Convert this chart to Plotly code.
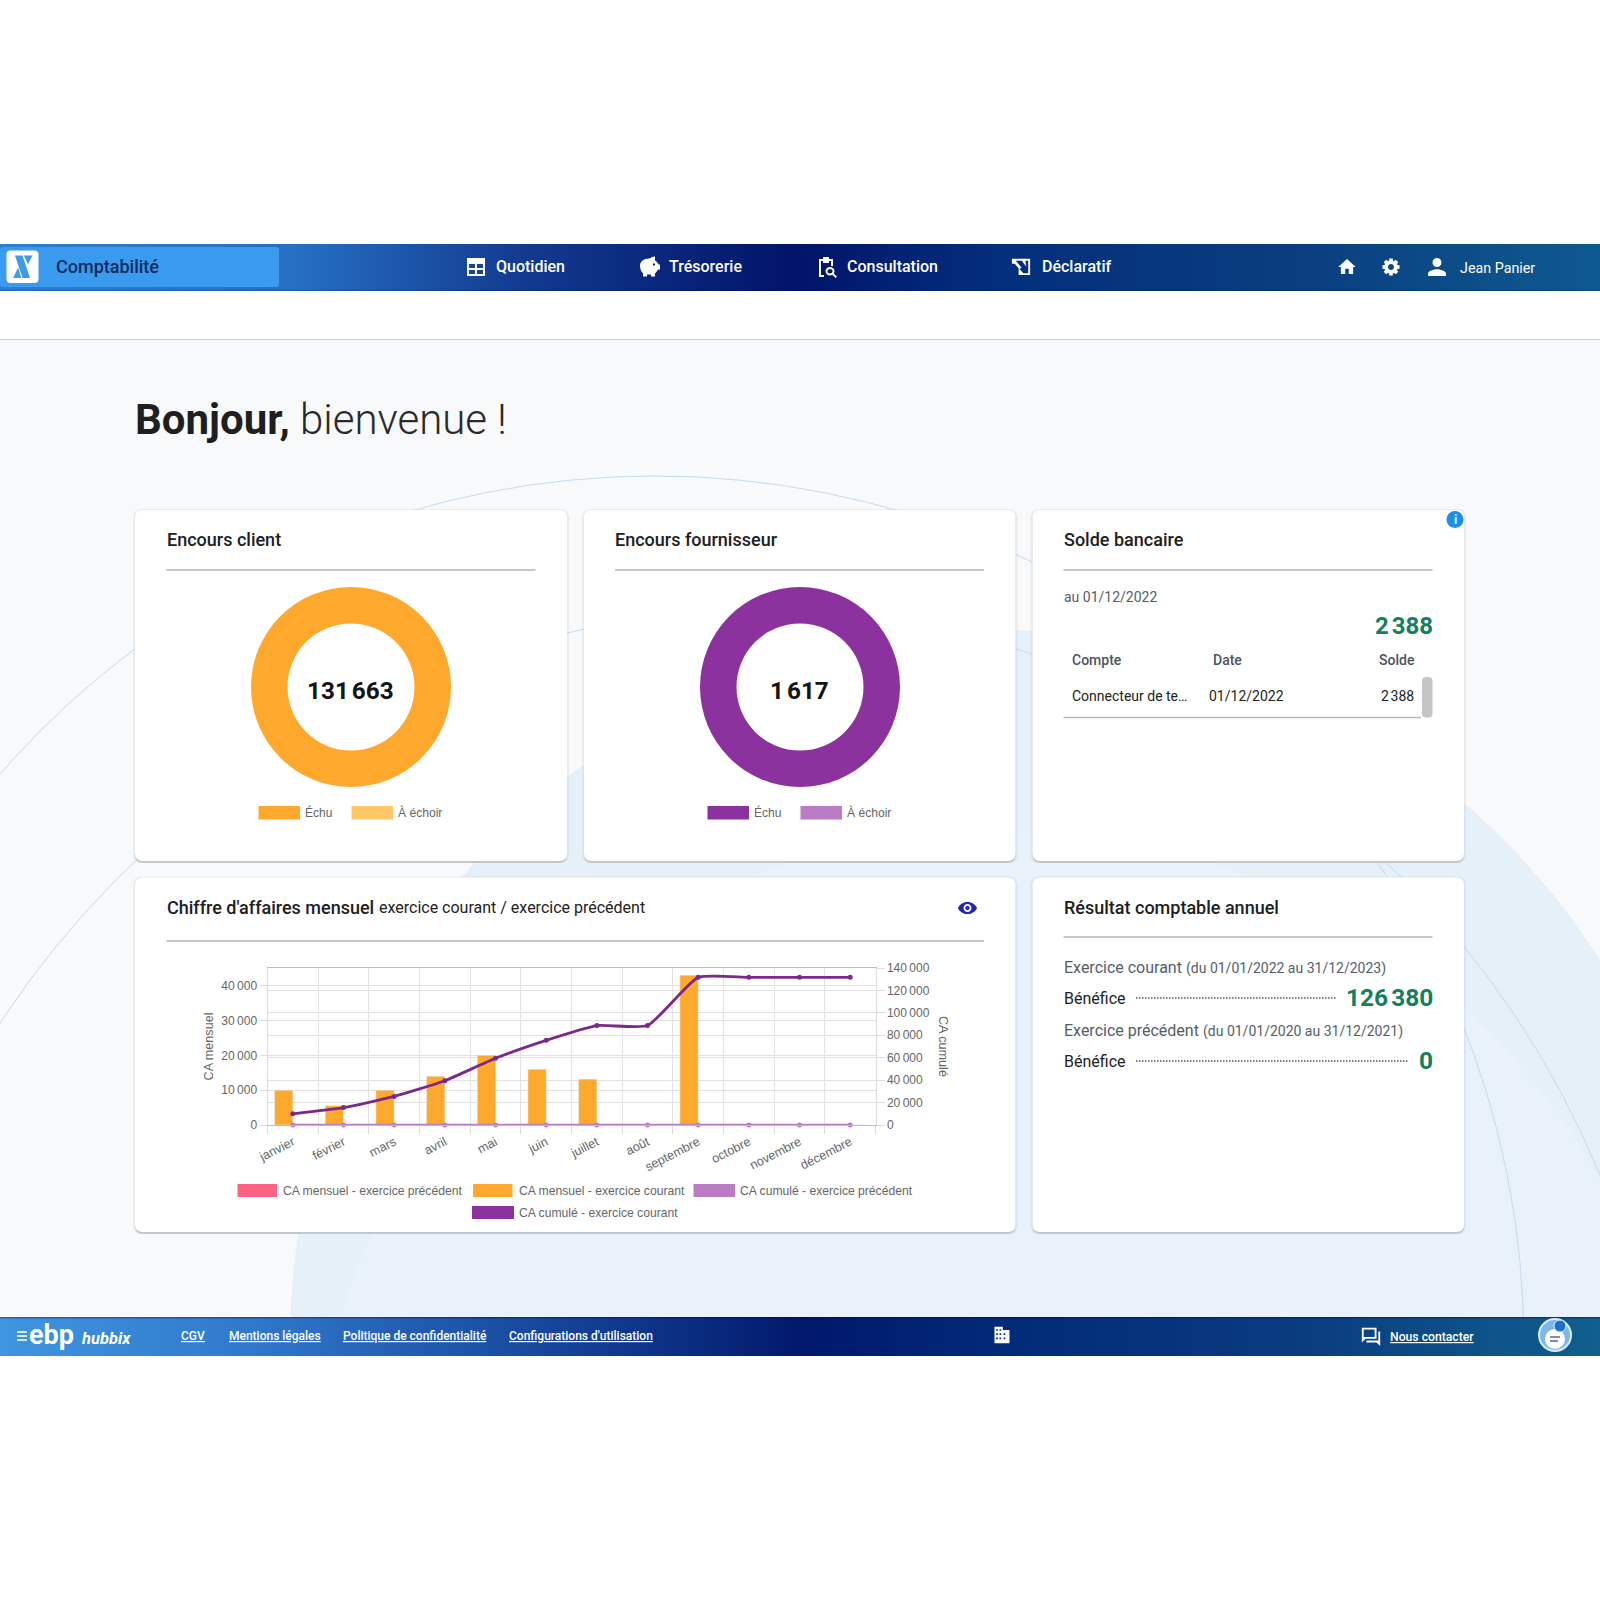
import math
import re
import plotly.graph_objects as go

W = 1600
H = 1600

# Chart values
mois = ["janvier", "février", "mars", "avril", "mai", "juin", "juillet", "août",
        "septembre", "octobre", "novembre", "décembre"]
ca_mensuel_courant = [10000, 5500, 10000, 14000, 20000, 16000, 13163, 0, 43000, 0, 0, 0]
ca_mensuel_precedent = [0, 0, 0, 0, 0, 0, 0, 0, 0, 0, 0, 0]
ca_cumule_courant = [10000, 15500, 25500, 39500, 59500, 75500, 88663, 88663, 131663, 131663, 131663, 131663]
ca_cumule_precedent = [0, 0, 0, 0, 0, 0, 0, 0, 0, 0, 0, 0]
ticks_mensuel = [0, 10000, 20000, 30000, 40000]
labels_mensuel = ["0", "10\u202f000", "20\u202f000", "30\u202f000", "40\u202f000"]
ticks_cumule = [0, 20000, 40000, 60000, 80000, 100000, 120000, 140000]
labels_cumule = ["0", "20\u202f000", "40\u202f000", "60\u202f000", "80\u202f000",
                 "100\u202f000", "120\u202f000", "140\u202f000"]
donut_labels = ["Échu", "À échoir"]
encours_client = [131663, 0]
encours_fournisseur = [1617, 0]

ORANGE = "#ffa82e"
ORANGE_LIGHT = "#ffc768"
PURPLE = "#8b329e"
PURPLE_LIGHT = "#bb7cc6"
PINK = "#ff6384"
GREEN = "#14805a"
GREY_TEXT = "#666666"
SLATE = "#555e68"
TITLE = "#202020"
HEAD = "Roboto"
CHART = "Liberation Sans"

shapes = []
notes = []


def px(x):
    return x / W


def py(y):
    return 1 - y / H


def rect(x0, y0, x1, y1, color):
    shapes.append(dict(type="rect", xref="paper", yref="paper", x0=px(x0), x1=px(x1),
                       y0=py(y0), y1=py(y1), fillcolor=color, line_width=0, layer="below"))


def rule(x0, y0, x1, y1, color, width=1, dash="solid"):
    shapes.append(dict(type="line", xref="paper", yref="paper", x0=px(x0), x1=px(x1),
                       y0=py(y0), y1=py(y1), line=dict(color=color, width=width, dash=dash),
                       layer="below"))


def circle(cx, cy, r, fill=None, line=None, width=1):
    shapes.append(dict(type="circle", xref="paper", yref="paper", x0=px(cx - r), x1=px(cx + r),
                       y0=py(cy - r), y1=py(cy + r), fillcolor=fill or "rgba(0,0,0,0)",
                       line=dict(color=line or "rgba(0,0,0,0)", width=width if line else 0),
                       layer="below"))


def rounded(x0, y0, x1, y1, r, color):
    d = (f"M{px(x0 + r):.6f} {py(y0):.6f} L{px(x1 - r):.6f} {py(y0):.6f} "
         f"Q{px(x1):.6f} {py(y0):.6f} {px(x1):.6f} {py(y0 + r):.6f} "
         f"L{px(x1):.6f} {py(y1 - r):.6f} Q{px(x1):.6f} {py(y1):.6f} {px(x1 - r):.6f} {py(y1):.6f} "
         f"L{px(x0 + r):.6f} {py(y1):.6f} Q{px(x0):.6f} {py(y1):.6f} {px(x0):.6f} {py(y1 - r):.6f} "
         f"L{px(x0):.6f} {py(y0 + r):.6f} Q{px(x0):.6f} {py(y0):.6f} {px(x0 + r):.6f} {py(y0):.6f} Z")
    shapes.append(dict(type="path", xref="paper", yref="paper", path=d, fillcolor=color,
                       line_width=0, layer="below"))


def icon(d, cx, cy, size, color):
    # d is drawn on a 24x24 grid with absolute commands only
    s = size / 24
    out = []
    for cmd, body in re.findall(r"([MLCQZ])([^MLCQZ]*)", d):
        nums = [float(v) for v in re.findall(r"-?\d+\.?\d*", body)]
        pts = []
        for i in range(0, len(nums), 2):
            pts.append(f"{px(cx + (nums[i] - 12) * s):.6f} {py(cy + (nums[i + 1] - 12) * s):.6f}")
        out.append(cmd + " ".join(pts))
    shapes.append(dict(type="path", xref="paper", yref="paper", path=" ".join(out),
                       fillcolor=color, line_width=0, layer="below"))


def label(x, y, text, size=14, color="#222222", weight=400, anchor="left", family=HEAD, angle=0):
    notes.append(dict(x=px(x), y=py(y), xref="paper", yref="paper", text=text, showarrow=False,
                      xanchor=anchor, yanchor="middle", align=anchor, borderpad=0, borderwidth=0,
                      textangle=angle,
                      font=dict(family=family, size=size, color=color, weight=weight)))


def gradient_band(y0, y1, stops):
    # no gradient fill on shapes, so it is laid down as thin slices
    step = 8
    for x in range(0, W, step):
        for (a, ca), (b, cb) in zip(stops, stops[1:]):
            if a <= x <= b:
                t = (x - a) / (b - a)
                rgb = [round(int(ca[i:i + 2], 16) * (1 - t) + int(cb[i:i + 2], 16) * t) for i in (1, 3, 5)]
                rect(x, y0, x + step + 1, y1, "rgb(%d,%d,%d)" % tuple(rgb))
                break


def card(x0, y0, x1, y1):
    rounded(x0 - 2, y0 - 1, x1 + 2, y1 + 2, 9, "rgba(190,195,200,0.25)")
    rounded(x0, y0 + 2, x1, y1 + 2, 8, "#c3c7cb")
    rounded(x0, y0, x1, y1, 8, "#ffffff")


# Page background with the pale discs and thin arcs
rect(0, 340, W, 1318, "#f8f9fa")
circle(1000, 1340, 710, fill="#e6f0f9")
circle(1000, 1520, 690, fill="#e9f1fa")
circle(655, 1345, 869, line="#c3dcee", width=1)
circle(760, 1520, 908, line="#c3dcee", width=1)
rect(0, 0, W, 339, "#ffffff")
rect(0, 1356, W, H, "#ffffff")
rule(0, 339.5, W, 339.5, "#c9c9c9", 1.2)

# Top bar
gradient_band(244, 291, [(0, "#2a7fd6"), (290, "#2670c4"), (520, "#123a8f"), (790, "#01146a"),
                         (1000, "#032f7c"), (1300, "#0a3e80"), (1600, "#0e5a90")])
rect(0, 289.5, W, 291, "rgba(0,0,50,0.15)")
rounded(0, 247, 279, 287, 3, "#3a9aee")
rounded(6.5, 250.5, 38.5, 283, 4, "#ffffff")
icon("M6 3 L12 3 L18 21 L12 21 Z M13 3 L20 3 L16.5 10 Z M4.5 21 L8.5 12.5 L11 21 Z", 22.5, 266.8, 30, "#3f9be8")
label(55.5, 266.5, "Comptabilité", 18, "#0b2a5e", 500)
nav_items = [("Quotidien", 496, 476), ("Trésorerie", 669, 649), ("Consultation", 846.5, 826.5),
             ("Déclaratif", 1042, 1021.5)]
for txt, tx, _ in nav_items:
    label(tx, 266.5, txt, 16, "#ffffff", 500)
icon("M3 3 L21 3 L21 21 L3 21 Z M5 9 L5 13 L11 13 L11 9 Z M5 15 L5 19 L11 19 L11 15 Z "
     "M13 9 L13 13 L19 13 L19 9 Z M13 15 L13 19 L19 19 L19 15 Z", 476, 267, 24, "#ffffff")
icon("M3 11 C3 7 7 4 12 4 C13 4 15 2 18 2 L18 6 C20 7 21 9 21.5 10 L23 10 L23 15 L21 15 "
     "C20 17 19 18 18 19 L18 22 L14 22 L14 20 L10 20 L10 22 L6 22 L6 19 C4 17 3 14 3 11 Z "
     "M16 9 L16 11 L18 11 L18 9 Z", 649, 266.5, 24, "#ffffff")
icon("M5 4 L9 4 L9 2 L15 2 L15 4 L19 4 L19 11 L17 11 L17 6 L15 6 L15 8 L9 8 L9 6 L7 6 L7 20 L10 20 "
     "L10 22 L5 22 Z M16 12 C18.5 12 20.5 14 20.5 16 C20.5 17 20.2 17.8 19.7 18.4 L23 21.7 L21.6 23 "
     "L18.3 19.8 C17.7 20.2 16.9 20.5 16 20.5 C13.5 20.5 11.5 18.5 11.5 16 C11.5 14 13.5 12 16 12 Z "
     "M16 14 C14.6 14 13.5 15 13.5 16.2 C13.5 17.5 14.6 18.5 16 18.5 C17.4 18.5 18.5 17.5 18.5 16.2 "
     "C18.5 15 17.4 14 16 14 Z", 826, 267, 24, "#ffffff")
icon("M2 4 L21 4 L21 21 L9 21 L9 14 L5 9 L2 9 Z M6 6 L12 13 L10 15 L14 19 L19 19 L19 6 L16 6 L17 12 "
     "L13 7 L13 6 Z", 1021.5, 266.5, 23, "#ffffff")
icon("M10 20 L10 14 L14 14 L14 20 L19 20 L19 12 L22 12 L12 3 L2 12 L5 12 L5 20 Z", 1347, 267, 21, "#ffffff")

# Gear, worked out from its tooth count
gear = []
for i in range(8):
    a = i * math.pi / 4
    for da, rad in [(-0.30, 7.6), (-0.20, 10), (0.20, 10), (0.30, 7.6)]:
        gear.append(f"{12 + rad * math.sin(a + da):.2f} {12 - rad * math.cos(a + da):.2f}")
gear_path = "M" + " L".join(gear) + " Z M12 8.6 C10 8.6 8.6 10 8.6 12 C8.6 14 10 15.4 12 15.4 C14 15.4 15.4 14 15.4 12 C15.4 10 14 8.6 12 8.6 Z"
icon(gear_path, 1391, 267, 21, "#ffffff")
icon("M12 12 C14.21 12 16 10.21 16 8 C16 5.79 14.21 4 12 4 C9.79 4 8 5.79 8 8 C8 10.21 9.79 12 12 12 Z "
     "M12 14 C9.33 14 4 15.34 4 18 L4 20 L20 20 L20 18 C20 15.34 14.67 14 12 14 Z", 1437, 267, 27, "#ffffff")
label(1460, 268, "Jean Panier", 14.3, "#ffffff", 400)

# Greeting
label(135, 420, "Bonjour,", 42, "#1f1f1f", 700)
label(300, 420, "bienvenue !", 42, "#2a2a2a", 300)

# Cards
card(135, 510, 567, 861)
card(584, 510, 1015.5, 861)
card(1032.5, 510, 1464, 861)
card(135, 877.5, 1015.5, 1232)
card(1032.5, 877.5, 1464, 1232)

for tx, x1, title in [(166.5, 535.5, "Encours client"), (615, 984, "Encours fournisseur"),
                      (1063.5, 1432.5, "Solde bancaire")]:
    label(tx, 539, title, 18, TITLE, 500)
    rule(tx, 570, x1, 570, "#b1b6bb", 1.4)

# Donut centres and hand drawn legends
for dx, total, col, col_light in [(0, "131\u202f663", ORANGE, ORANGE_LIGHT),
                                  (449, "1\u202f617", PURPLE, PURPLE_LIGHT)]:
    label(350.5 + dx, 690, total, 24.3, "#141414", 700, "center")
    rect(258.5 + dx, 806, 300 + dx, 819.5, col)
    rect(351.5 + dx, 806, 393 + dx, 819.5, col_light)
    label(305 + dx, 812.5, donut_labels[0], 12, GREY_TEXT, 400, family=CHART)
    label(398 + dx, 812.5, donut_labels[1], 12.1, GREY_TEXT, 400, family=CHART)

# Solde bancaire
circle(1455, 519.5, 8.5, fill="#1a90ea")
label(1455, 519.5, "<b>i</b>", 12, "#ffffff", 700, "center")
label(1063.5, 597, "au 01/12/2022", 14, SLATE)
label(1432.5, 626, "2\u202f388", 24, GREEN, 700, "right")
label(1071.5, 660, "Compte", 14, "#4a5460", 500)
label(1213, 660, "Date", 14, "#4a5460", 500)
label(1415, 660, "Solde", 14, "#4a5460", 500, "right")
label(1071.5, 696, "Connecteur de te…", 14, "#222222")
label(1209, 696, "01/12/2022", 14, "#222222")
label(1414, 696, "2\u202f388", 14, "#222222", 400, "right")
rule(1063.5, 717.5, 1421, 717.5, "#b9bdc1", 1.4)
rounded(1422, 677, 1432.5, 717.5, 4, "#c5c5c5")

# Monthly chart card
label(166.5, 907, "Chiffre d'affaires mensuel", 18, TITLE, 500)
label(379, 907.5, "exercice courant / exercice précédent", 16, "#222222")
rule(166.5, 941, 984, 941, "#8b8f93", 1.2)
icon("M12 5 C7 5 2.7 8.1 1 12 C2.7 15.9 7 19 12 19 C17 19 21.3 15.9 23 12 C21.3 8.1 17 5 12 5 Z "
     "M12 7.5 C14.5 7.5 16.5 9.5 16.5 12 C16.5 14.5 14.5 16.5 12 16.5 C9.5 16.5 7.5 14.5 7.5 12 "
     "C7.5 9.5 9.5 7.5 12 7.5 Z M12 9.5 C10.6 9.5 9.5 10.6 9.5 12 C9.5 13.4 10.6 14.5 12 14.5 "
     "C13.4 14.5 14.5 13.4 14.5 12 C14.5 10.6 13.4 9.5 12 9.5 Z", 967.5, 908, 21, "#2626b0")

legend_items = [("CA mensuel - exercice précédent", 237.5, 277, 283, 1190.5, PINK),
                ("CA mensuel - exercice courant", 473, 512.5, 518.5, 1190.5, ORANGE),
                ("CA cumulé - exercice précédent", 693.5, 735, 740, 1190.5, PURPLE_LIGHT),
                ("CA cumulé - exercice courant", 472, 514, 518.5, 1212.5, PURPLE)]
for txt, s0, s1, tx, ly, col in legend_items:
    rect(s0, ly - 6.5, s1, ly + 6.5, col)
    label(tx, ly, txt, 12.15, GREY_TEXT, 400, family=CHART)

# Résultat comptable annuel
label(1063.5, 907, "Résultat comptable annuel", 18, TITLE, 500)
rule(1063.5, 937, 1432.5, 937, "#8b8f93", 1.2)
label(1063.5, 967, "Exercice courant", 16, SLATE)
label(1185.5, 968, "(du 01/01/2022 au 31/12/2023)", 14, SLATE)
label(1063.5, 998, "Bénéfice", 16, "#222222")
rule(1136, 998, 1337, 998, "#555555", 1.5, "1.5px,1.5px")
label(1432.5, 997, "126\u202f380", 24.5, GREEN, 700, "right")
label(1063.5, 1030, "Exercice précédent", 16, SLATE)
label(1202.5, 1031, "(du 01/01/2020 au 31/12/2021)", 14, SLATE)
label(1063.5, 1061, "Bénéfice", 16, "#222222")
rule(1136, 1061, 1409, 1061, "#555555", 1.5, "1.5px,1.5px")
label(1432.5, 1060, "0", 24.5, GREEN, 700, "right")

# Footer
gradient_band(1317, 1356, [(0, "#3f95df"), (250, "#2f78cc"), (520, "#184a9f"), (800, "#01186c"),
                           (1000, "#022a78"), (1300, "#0a3c80"), (1600, "#10608f")])
rect(0, 1317, W, 1318.5, "rgba(0,0,60,0.35)")
for ly in (1332, 1336, 1340):
    rule(17, ly, 27, ly, "#ffffff", 1.6)
label(29, 1335, "<b>ebp</b>", 27, "#ffffff", 700)
label(81, 1338, "<b><i>hubbix</i></b>", 16.5, "#ffffff", 500)
for txt, tx in [("CGV", 180.5), ("Mentions légales", 228.5), ("Politique de confidentialité", 343),
                ("Configurations d'utilisation", 509)]:
    label(tx, 1336, f"<u>{txt}</u>", 12, "#ffffff", 500)
label(1390, 1337, "<u>Nous contacter</u>", 12.2, "#ffffff", 500)
icon("M3 2 L13 2 L13 6 L21 6 L21 22 L3 22 Z M5 5 L5 7 L7 7 L7 5 Z M9 5 L9 7 L11 7 L11 5 Z "
     "M5 10 L5 12 L7 12 L7 10 Z M9 10 L9 12 L11 12 L11 10 Z M14 10 L14 12 L16 12 L16 10 Z "
     "M5 15 L5 17 L7 17 L7 15 Z M9 15 L9 17 L11 17 L11 15 Z M14 15 L14 17 L16 17 L16 15 Z",
     1002, 1335, 20, "#ffffff")
icon("M2 3 L18 3 L18 15 L6 15 L2 19 Z M4 5 L4 13 L16 13 L16 5 Z M20 7 L22 7 L22 23 L18 19 L7 19 L7 17 L20 17 Z",
     1371, 1336, 22, "#ffffff")
circle(1555, 1335, 16, fill="#7fb8e8", line="#d8ecfa", width=2)
circle(1555, 1339, 10, fill="#ffffff")
circle(1560, 1326, 6, fill="#1f6fc4", line="#d8ecfa", width=1)
rule(1550, 1337, 1560, 1337, "#5a5fb0", 1.5)
rule(1550, 1341, 1558, 1341, "#5a5fb0", 1.5)

# The right axis title reads downward, which an axis title will not do here
label(943, 1046, "CA cumulé", 12.6, GREY_TEXT, 400, "center", CHART, 90)

fig = go.Figure()

# Donuts
for vals, cx, cols in [(encours_client, 351, [ORANGE, ORANGE_LIGHT]),
                       (encours_fournisseur, 800, [PURPLE, PURPLE_LIGHT])]:
    fig.add_trace(go.Pie(labels=donut_labels, values=vals, hole=0.635, sort=False, textinfo="none",
                         marker=dict(colors=cols), showlegend=False, hoverinfo="label+value",
                         domain=dict(x=[px(cx - 100), px(cx + 100)], y=[py(787), py(587)])))

# Bars, current year sits left of the slot
fig.add_trace(go.Bar(x=mois, y=ca_mensuel_courant, name="CA mensuel - exercice courant",
                     marker_color=ORANGE, yaxis="y"))
fig.add_trace(go.Bar(x=mois, y=ca_mensuel_precedent, name="CA mensuel - exercice précédent",
                     marker_color=PINK, yaxis="y"))
fig.add_trace(go.Scatter(x=mois, y=ca_cumule_precedent, name="CA cumulé - exercice précédent", yaxis="y2",
                         mode="lines+markers", cliponaxis=False, line=dict(color=PURPLE_LIGHT, width=2.5),
                         marker=dict(color=PURPLE_LIGHT, size=5)))
fig.add_trace(go.Scatter(x=mois, y=ca_cumule_courant, name="CA cumulé - exercice courant", yaxis="y2",
                         mode="lines+markers", cliponaxis=False,
                         line=dict(color="#7b2a8c", width=2.8, shape="spline", smoothing=0.5),
                         marker=dict(color="#7b2a8c", size=5)))

tick_font = dict(family=CHART, size=12, color=GREY_TEXT)
x_font = dict(family=CHART, size=12.6, color=GREY_TEXT)
title_font = dict(family=CHART, size=12.6, color=GREY_TEXT)
fig.update_layout(
    width=W, height=H,
    margin=dict(l=0, r=0, t=0, b=0),
    paper_bgcolor="#ffffff",
    plot_bgcolor="rgba(0,0,0,0)",
    showlegend=False,
    barmode="group",
    bargap=0.28,
    bargroupgap=0,
    shapes=shapes,
    annotations=notes,
    xaxis=dict(domain=[px(267.5), px(875.5)], anchor="y", type="category", range=[-0.5, 11.5],
               tickson="boundaries", ticks="outside", ticklen=8, tickcolor="#dcdcdc",
               showgrid=True, gridcolor="#e2e2e2", gridwidth=1, tickangle=-27, tickfont=x_font,
               ticklabelstandoff=4, showline=True, linecolor="#bdbdbd", mirror=True, automargin=False),
    yaxis=dict(domain=[py(1125), py(968)], range=[0, 45080], tickvals=ticks_mensuel, ticktext=labels_mensuel,
               ticks="outside", ticklen=7, tickcolor="#dcdcdc", showgrid=True, gridcolor="#e2e2e2",
               tickfont=tick_font, showline=True, linecolor="#dcdcdc", zeroline=False, automargin=False,
               title=dict(text="CA mensuel", font=title_font, standoff=4)),
    yaxis2=dict(overlaying="y", side="right", anchor="x", range=[0, 140000], tickvals=ticks_cumule,
                ticktext=labels_cumule, ticks="outside", ticklen=8, tickcolor="#dcdcdc", showgrid=True,
                gridcolor="#e2e2e2", tickfont=tick_font, showline=True, linecolor="#dcdcdc", zeroline=False,
                automargin=False),
)

fig.write_html("out.html", config={"displayModeBar": False},
               post_script="document.body.style.margin='0';")
